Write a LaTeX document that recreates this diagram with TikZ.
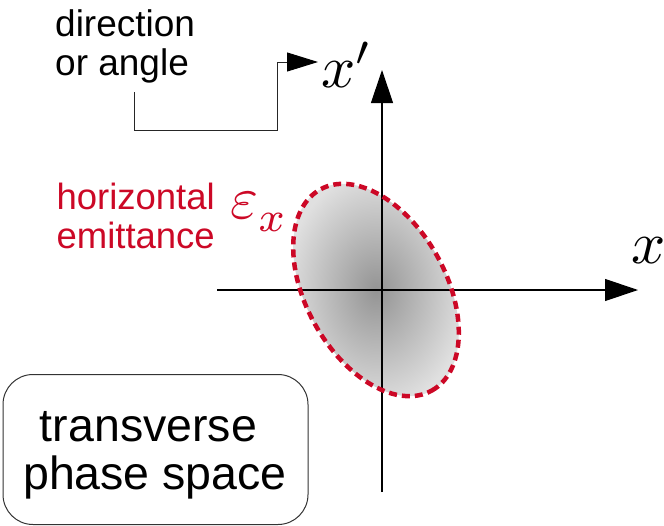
\documentclass[tikz,border=0pt]{standalone}
\usepackage{fontspec}
\setmainfont{Liberation Sans}
\usetikzlibrary{arrows.meta,shapes.geometric}
\definecolor{emred}{RGB}{204,8,38}
\begin{document}
\begin{tikzpicture}[x=1pt,y=-1pt,
  axis/.style={line width=1.2pt, draw=black, -{Triangle[length=33pt,width=22pt]}},
  conn/.style={line width=1pt, draw=black!85, -{Triangle[length=31pt,width=19pt,fill=black,color=black]}},
  lbl/.style={inner sep=0pt, font=\fontsize{37}{39}\selectfont},
  emlbl/.style={inner sep=0pt, font=\fontsize{36.5}{38.5}\selectfont},
  mathlbl/.style={inner sep=0pt, font=\normalsize, scale=6},
  boxlbl/.style={inner sep=0pt, align=center, font=\fontsize{46.5}{48}\selectfont},
  beam/.style={ellipse, minimum width=230pt, minimum height=140pt, inner sep=0pt,
    rotate=-61, inner color=black!42, outer color=black!12},
  beamedge/.style={ellipse, minimum width=230pt, minimum height=140pt, inner sep=0pt,
    rotate=-61, draw=emred, line width=4.5pt, dash pattern=on 8pt off 5pt},
  panel/.style={draw=black!80, line width=1pt, rounded corners=30pt,
    minimum width=305pt, minimum height=150pt, inner sep=0pt}
]
\useasboundingbox (0,0) rectangle (664,525);
% beam ellipse
\node[beam] (beam) at (376,290) {};
% axes
\coordinate (xl) at (217,290);
\coordinate (xr) at (638,290);
\coordinate (yb) at (382,492);
\coordinate (yt) at (382,70);
\draw[axis] (xl) -- (xr);
\draw[axis] (yb) -- (yt);
\node[beamedge] (edge) at (376,290) {};
% axis labels
\node[mathlbl, anchor=base west] (xlab) at (630,263) {$x$};
\node[mathlbl, anchor=base west] (xplab) at (320,87) {$x'$};
\node[mathlbl, anchor=base west, text=emred] (eps) at (229,218) {$\varepsilon_{\raisebox{-0.7pt}{$\scriptstyle x$}}$};
% direction text and connector
\node[lbl, align=left, anchor=north west] (dir) at (55,9) {direction\\or angle};
\coordinate (c0) at (134,92);
\coordinate (bend) at (277,130);
\coordinate (tip) at (318,62);
\draw[conn] (c0) |- (bend) |- (tip);
% emittance text
\node[emlbl, align=right, anchor=north east, text=emred] (emit) at (215,183) {horizontal\\emittance};
% panel
\node[panel] (panel) at (155.5,449.5) {};
\node[boxlbl] (paneltext) at (155,455) {transverse\rule{0.28em}{0pt}\\phase space};
\end{tikzpicture}
\end{document}
